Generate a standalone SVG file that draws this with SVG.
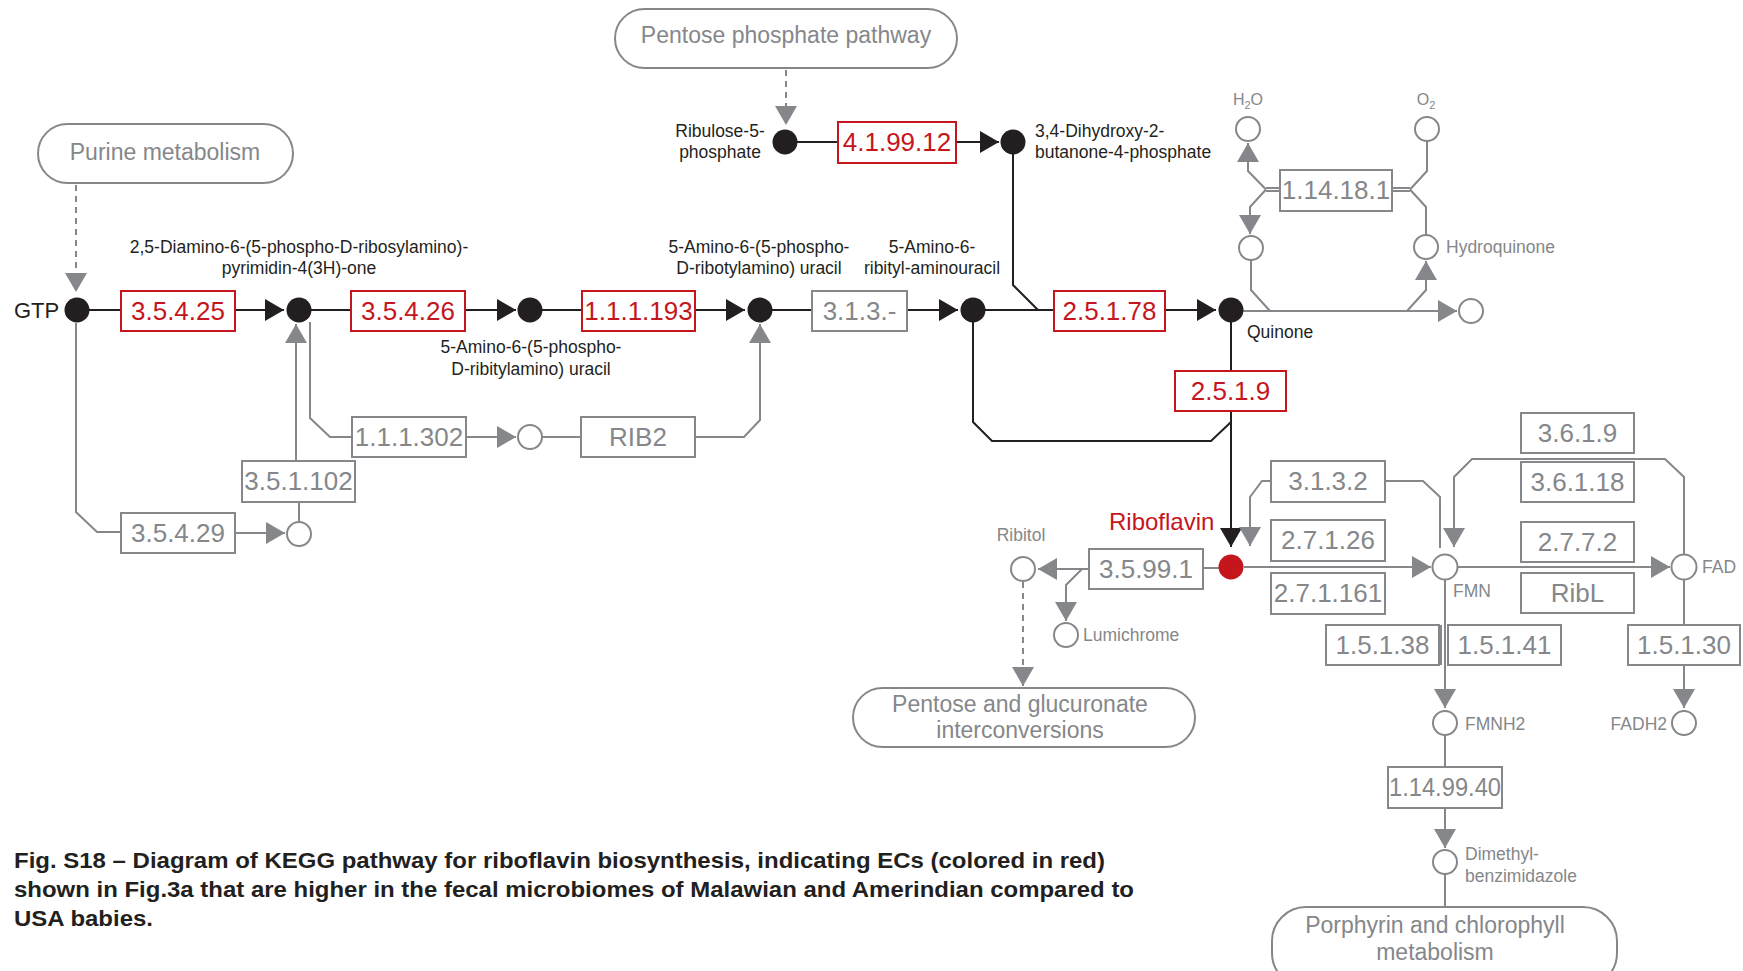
<svg xmlns="http://www.w3.org/2000/svg" width="1743" height="971" viewBox="0 0 1743 971">
<style>
text{font-family:"Liberation Sans",Arial,sans-serif}
.ec rect{fill:#fff;stroke-width:2}
.ec text{font-size:26px;text-anchor:middle}
.r rect{stroke:#c4161c}.r text{fill:#c4161c}
.g rect{stroke:#85878a}.g text{fill:#85878a}
.pill rect{fill:#fff;stroke:#85878a;stroke-width:2}
.pill text{font-size:23px;fill:#85878a;text-anchor:middle}
.cb{fill:#231f20}
.co{fill:#fff;stroke:#85878a;stroke-width:2}
.lbl{font-size:17.5px;fill:#231f20}
.glbl{font-size:17.5px;fill:#85878a}
.lb{fill:none;stroke:#231f20;stroke-width:2}
.lg{fill:none;stroke:#85878a;stroke-width:2}
.dash{stroke-dasharray:6 5}
.cap{font-size:22px;font-weight:bold;fill:#231f20}
</style>
<defs>
<marker id="ab" viewBox="0 0 19 22" refX="19" refY="11" markerWidth="19" markerHeight="22" markerUnits="userSpaceOnUse" orient="auto"><path d="M0,0 L19,11 L0,22 z" fill="#231f20"/></marker>
<marker id="ag" viewBox="0 0 19 22" refX="19" refY="11" markerWidth="19" markerHeight="22" markerUnits="userSpaceOnUse" orient="auto"><path d="M0,0 L19,11 L0,22 z" fill="#85878a"/></marker>
</defs>
<rect width="1743" height="971" fill="#fff"/>

<g id="connectors">
<path class="lb" d="M89,310 H121"/>
<path class="lb" d="M235,310 H284" marker-end="url(#ab)"/>
<path class="lb" d="M311,310 H351"/>
<path class="lb" d="M465,310 H516" marker-end="url(#ab)"/>
<path class="lb" d="M542,310 H582"/>
<path class="lb" d="M695,310 H745" marker-end="url(#ab)"/>
<path class="lb" d="M772,310 H812"/>
<path class="lb" d="M907,310 H958" marker-end="url(#ab)"/>
<path class="lb" d="M985,310 H1054"/>
<path class="lb" d="M1165,310 H1216" marker-end="url(#ab)"/>
<path class="lb" d="M797,142 H838"/>
<path class="lb" d="M956,142 H999" marker-end="url(#ab)"/>
<path class="lb" d="M1013,154 V285 L1038,310"/>
<path class="lb" d="M973,322 V422 L992,441 H1211 L1231,422"/>
<path class="lb" d="M1231,322 V547" marker-end="url(#ab)"/>
<path class="lg dash" d="M76,185 V292" marker-end="url(#ag)"/>
<path class="lg dash" d="M786,70 V125" marker-end="url(#ag)"/>
<path class="lg" d="M76,323 V512 L97,532 H121"/>
<path class="lg" d="M235,533 H285" marker-end="url(#ag)"/>
<path class="lg" d="M299,521 V502"/>
<path class="lg" d="M296,461 V324" marker-end="url(#ag)"/>
<path class="lg" d="M310,322 V418 L330,437 H352"/>
<path class="lg" d="M466,437 H516" marker-end="url(#ag)"/>
<path class="lg" d="M542,437 H581"/>
<path class="lg" d="M695,437 H744 L760,420 V324" marker-end="url(#ag)"/>
<path class="lg" d="M1243,311 H1457" marker-end="url(#ag)"/>
<path class="lg" d="M1251,260 V290 L1270,311"/>
<path class="lg" d="M1407,311 L1426,290 V261" marker-end="url(#ag)"/>
<path class="lg" d="M1266,188 H1280 M1266,191 H1280"/>
<path class="lg" d="M1266,189.5 L1248,171 V143" marker-end="url(#ag)"/>
<path class="lg" d="M1266,189.5 L1250,207 V234" marker-end="url(#ag)"/>
<path class="lg" d="M1392,188 H1410 M1392,191 H1410"/>
<path class="lg" d="M1410,189.5 L1427,171 V141"/>
<path class="lg" d="M1410,189.5 L1426,207 V235"/>
<path class="lg" d="M1219,568 H1203"/>
<path class="lg" d="M1089,569 H1038" marker-end="url(#ag)"/>
<path class="lg" d="M1082,569 L1066,585 V621" marker-end="url(#ag)"/>
<path class="lg dash" d="M1023,582 V686" marker-end="url(#ag)"/>
<path class="lg" d="M1244,567 H1431" marker-end="url(#ag)"/>
<path class="lg" d="M1271,481 H1262 L1250,497 V546" marker-end="url(#ag)"/>
<path class="lg" d="M1386,481 H1423 L1440,497 V548"/>
<path class="lg" d="M1458,567 H1670" marker-end="url(#ag)"/>
<path class="lg" d="M1684,554 V477 L1665,459 H1472 L1454,477 V547" marker-end="url(#ag)"/>
<path class="lg" d="M1445,580 V708" marker-end="url(#ag)"/>
<path class="lg" d="M1441,625 V665"/>
<path class="lg" d="M1684,580 V708" marker-end="url(#ag)"/>
<path class="lg" d="M1445,736 V767"/>
<path class="lg" d="M1445,808 V848" marker-end="url(#ag)"/>
<path class="lg" d="M1445,874 V907"/>
</g>

<g id="pill-ppp" class="pill"><rect x="615" y="9" width="342" height="59" rx="29.5"/><text x="786" y="43">Pentose phosphate pathway</text></g>
<g id="pill-purine" class="pill"><rect x="38" y="124" width="255" height="59" rx="29.5"/><text x="165" y="160">Purine metabolism</text></g>
<g id="pill-glucuronate" class="pill"><rect x="853" y="688" width="342" height="59" rx="29.5"/><text x="1020" y="712">Pentose and glucuronate</text><text x="1020" y="738">interconversions</text></g>
<g id="pill-porphyrin" class="pill"><rect x="1272" y="907" width="345" height="80" rx="34"/><text x="1435" y="933">Porphyrin and chlorophyll</text><text x="1435" y="960">metabolism</text></g>

<g id="ec-3.5.4.25" class="ec r"><rect x="121" y="291" width="114" height="40"/><text x="178" y="320">3.5.4.25</text></g>
<g id="ec-3.5.4.26" class="ec r"><rect x="351" y="291" width="114" height="40"/><text x="408" y="320">3.5.4.26</text></g>
<g id="ec-1.1.1.193" class="ec r"><rect x="582" y="291" width="113" height="40"/><text x="638.5" y="320">1.1.1.193</text></g>
<g id="ec-3.1.3.-" class="ec g"><rect x="812" y="291" width="95" height="40"/><text x="859.5" y="320">3.1.3.-</text></g>
<g id="ec-2.5.1.78" class="ec r"><rect x="1054" y="291" width="111" height="40"/><text x="1109.5" y="320">2.5.1.78</text></g>
<g id="ec-4.1.99.12" class="ec r"><rect x="838" y="122" width="118" height="41"/><text x="897" y="151">4.1.99.12</text></g>
<g id="ec-1.14.18.1" class="ec g"><rect x="1280" y="170" width="112" height="41"/><text x="1336" y="199">1.14.18.1</text></g>
<g id="ec-2.5.1.9" class="ec r"><rect x="1175" y="371" width="111" height="40"/><text x="1230.5" y="400">2.5.1.9</text></g>
<g id="ec-1.1.1.302" class="ec g"><rect x="352" y="417" width="114" height="40"/><text x="409" y="446">1.1.1.302</text></g>
<g id="ec-RIB2" class="ec g"><rect x="581" y="417" width="114" height="40"/><text x="638" y="446">RIB2</text></g>
<g id="ec-3.5.1.102" class="ec g"><rect x="242" y="461" width="113" height="41"/><text x="298.5" y="490">3.5.1.102</text></g>
<g id="ec-3.5.4.29" class="ec g"><rect x="121" y="513" width="114" height="40"/><text x="178" y="542">3.5.4.29</text></g>
<g id="ec-3.5.99.1" class="ec g"><rect x="1089" y="549" width="114" height="40"/><text x="1146" y="578">3.5.99.1</text></g>
<g id="ec-3.1.3.2" class="ec g"><rect x="1271" y="461" width="114" height="41"/><text x="1328" y="490">3.1.3.2</text></g>
<g id="ec-2.7.1.26" class="ec g"><rect x="1271" y="520" width="114" height="41"/><text x="1328" y="549">2.7.1.26</text></g>
<g id="ec-2.7.1.161" class="ec g"><rect x="1271" y="573" width="114" height="41"/><text x="1328" y="602">2.7.1.161</text></g>
<g id="ec-3.6.1.9" class="ec g"><rect x="1521" y="413" width="113" height="40"/><text x="1577.5" y="442">3.6.1.9</text></g>
<g id="ec-3.6.1.18" class="ec g"><rect x="1521" y="462" width="113" height="40"/><text x="1577.5" y="491">3.6.1.18</text></g>
<g id="ec-2.7.7.2" class="ec g"><rect x="1521" y="522" width="113" height="40"/><text x="1577.5" y="551">2.7.7.2</text></g>
<g id="ec-RibL" class="ec g"><rect x="1521" y="573" width="113" height="40"/><text x="1577.5" y="602">RibL</text></g>
<g id="ec-1.5.1.38" class="ec g"><rect x="1326" y="625" width="113" height="40"/><text x="1382.5" y="654">1.5.1.38</text></g>
<g id="ec-1.5.1.41" class="ec g"><rect x="1448" y="625" width="113" height="40"/><text x="1504.5" y="654">1.5.1.41</text></g>
<g id="ec-1.5.1.30" class="ec g"><rect x="1628" y="625" width="112" height="40"/><text x="1684" y="654">1.5.1.30</text></g>
<g id="ec-1.14.99.40" class="ec g"><rect x="1388" y="767" width="114" height="41"/><text x="1445" y="796" textLength="112" lengthAdjust="spacingAndGlyphs">1.14.99.40</text></g>

<g id="cpd-GTP"><circle class="cb" cx="77" cy="310" r="12.5"/><text x="14" y="318" style="font-size:22px;fill:#231f20">GTP</text></g>
<g id="cpd-diamino"><circle class="cb" cx="299" cy="310" r="12.5"/><text class="lbl" x="299" y="253" text-anchor="middle">2,5-Diamino-6-(5-phospho-D-ribosylamino)-</text><text class="lbl" x="299" y="274" text-anchor="middle">pyrimidin-4(3H)-one</text></g>
<g id="cpd-ribitylamino"><circle class="cb" cx="530" cy="310" r="12.5"/><text class="lbl" x="531" y="353" text-anchor="middle">5-Amino-6-(5-phospho-</text><text class="lbl" x="531" y="375" text-anchor="middle">D-ribitylamino) uracil</text></g>
<g id="cpd-ribotylamino"><circle class="cb" cx="760" cy="310" r="12.5"/><text class="lbl" x="759" y="253" text-anchor="middle">5-Amino-6-(5-phospho-</text><text class="lbl" x="759" y="274" text-anchor="middle">D-ribotylamino) uracil</text></g>
<g id="cpd-aminouracil"><circle class="cb" cx="973" cy="310" r="12.5"/><text class="lbl" x="932" y="253" text-anchor="middle">5-Amino-6-</text><text class="lbl" x="932" y="274" text-anchor="middle">ribityl-aminouracil</text></g>
<g id="cpd-quinone"><circle class="cb" cx="1231" cy="310" r="12.5"/><text class="lbl" x="1247" y="338">Quinone</text></g>
<g id="cpd-ribulose"><circle class="cb" cx="785" cy="142" r="12.5"/><text class="lbl" x="720" y="137" text-anchor="middle">Ribulose-5-</text><text class="lbl" x="720" y="158" text-anchor="middle">phosphate</text></g>
<g id="cpd-dihydroxy"><circle class="cb" cx="1013" cy="142" r="12.5"/><text class="lbl" x="1035" y="137">3,4-Dihydroxy-2-</text><text class="lbl" x="1035" y="158">butanone-4-phosphate</text></g>
<g id="cpd-riboflavin"><circle cx="1231" cy="567" r="12.5" fill="#c4161c"/><text x="1109" y="530" style="font-size:24px;fill:#c4161c">Riboflavin</text></g>
<g id="cpd-int1"><circle class="co" cx="530" cy="437" r="12"/></g>
<g id="cpd-int2"><circle class="co" cx="299" cy="534" r="12"/></g>
<g id="cpd-H2O"><circle class="co" cx="1248" cy="129" r="12"/><text class="glbl" x="1248" y="105" text-anchor="middle" style="font-size:16px">H<tspan font-size="11" dy="4">2</tspan><tspan dy="-4">O</tspan></text></g>
<g id="cpd-O2"><circle class="co" cx="1427" cy="129" r="12"/><text class="glbl" x="1426" y="105" text-anchor="middle" style="font-size:16px">O<tspan font-size="11" dy="4">2</tspan></text></g>
<g id="cpd-int3"><circle class="co" cx="1251" cy="248" r="12"/></g>
<g id="cpd-hydroquinone"><circle class="co" cx="1426" cy="247" r="12"/><text class="glbl" x="1446" y="253">Hydroquinone</text></g>
<g id="cpd-int4"><circle class="co" cx="1471" cy="311" r="12"/></g>
<g id="cpd-ribitol"><circle class="co" cx="1023" cy="569" r="12"/><text class="glbl" x="1021" y="541" text-anchor="middle">Ribitol</text></g>
<g id="cpd-lumichrome"><circle class="co" cx="1066" cy="635" r="12"/><text class="glbl" x="1083" y="641">Lumichrome</text></g>
<g id="cpd-FMN"><circle class="co" cx="1445" cy="567" r="12.5"/><text class="glbl" x="1453" y="597">FMN</text></g>
<g id="cpd-FAD"><circle class="co" cx="1684" cy="567" r="12.5"/><text class="glbl" x="1702" y="573">FAD</text></g>
<g id="cpd-FMNH2"><circle class="co" cx="1445" cy="723" r="12"/><text class="glbl" x="1465" y="730">FMNH2</text></g>
<g id="cpd-FADH2"><circle class="co" cx="1684" cy="723" r="12"/><text class="glbl" x="1667" y="730" text-anchor="end">FADH2</text></g>
<g id="cpd-dimethyl"><circle class="co" cx="1445" cy="862" r="12"/><text class="glbl" x="1465" y="860">Dimethyl-</text><text class="glbl" x="1465" y="882">benzimidazole</text></g>

<g id="caption">
<text class="cap" x="14" y="868" textLength="1091" lengthAdjust="spacingAndGlyphs">Fig. S18 – Diagram of KEGG pathway for riboflavin biosynthesis, indicating ECs (colored in red)</text>
<text class="cap" x="14" y="897" textLength="1120" lengthAdjust="spacingAndGlyphs">shown in Fig.3a that are higher in the fecal microbiomes of Malawian and Amerindian compared to</text>
<text class="cap" x="14" y="926" textLength="139" lengthAdjust="spacingAndGlyphs">USA babies.</text>
</g>
</svg>
